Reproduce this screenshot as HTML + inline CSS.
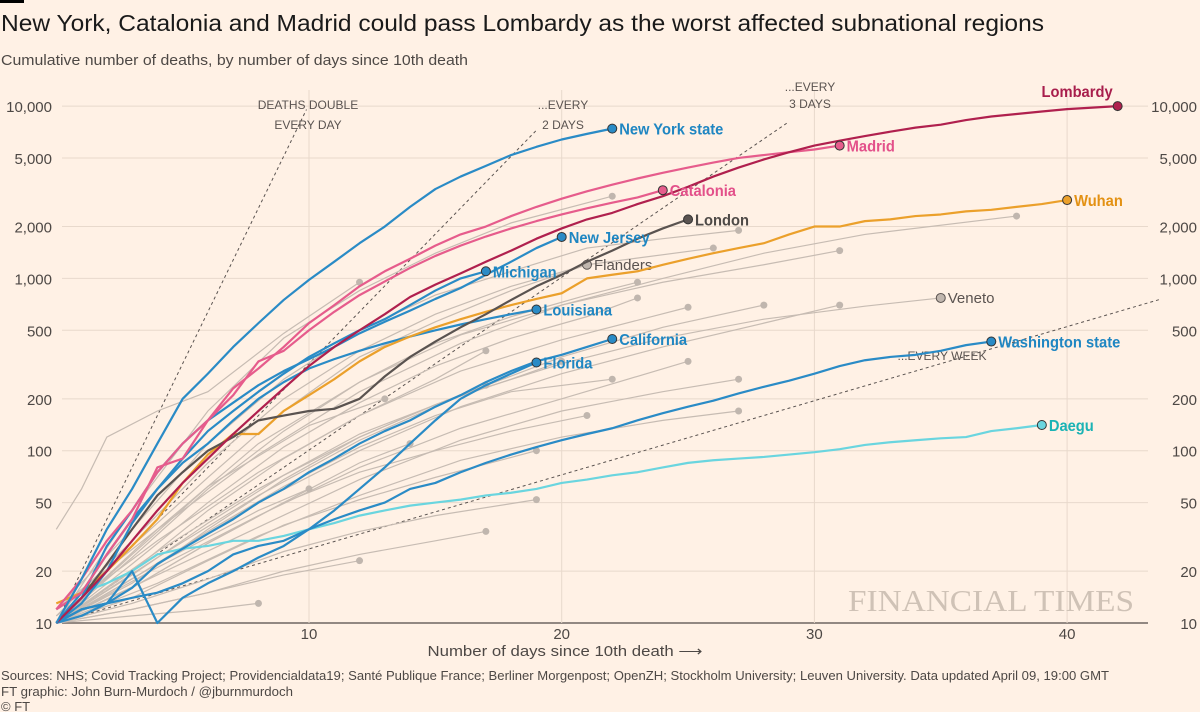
<!DOCTYPE html>
<html><head><meta charset="utf-8">
<style>
html,body{margin:0;padding:0;background:#fff1e5;}
svg{display:block;font-family:"Liberation Sans",sans-serif;}
</style></head>
<body>
<svg id="chart" width="1200" height="712" viewBox="0 0 1200 712">
<rect x="0" y="0" width="1200" height="712" fill="#fff1e5"/>
<rect x="0" y="0" width="24" height="3" fill="#000"/>
<text x="1" y="31" font-size="23" fill="#1a1a1a" textLength="1043" lengthAdjust="spacingAndGlyphs">New York, Catalonia and Madrid could pass Lombardy as the worst affected subnational regions</text>
<text x="1" y="65" font-size="15" fill="#4d4845" textLength="467" lengthAdjust="spacingAndGlyphs">Cumulative number of deaths, by number of days since 10th death</text>
<g id="grid"></g>
<g id="refs"></g>
<g id="gray"></g>
<g id="main"></g>
<g id="labels"></g>
<text x="1134" y="611" font-family="Liberation Serif, serif" font-size="31" fill="#cfc2b6" text-anchor="end" textLength="286" lengthAdjust="spacingAndGlyphs">FINANCIAL TIMES</text>
<text x="565" y="656" font-size="15" fill="#4d4845" text-anchor="middle" textLength="275" lengthAdjust="spacingAndGlyphs">Number of days since 10th death ⟶</text>
<text x="1" y="680" font-size="13" fill="#4d4845" textLength="1108" lengthAdjust="spacingAndGlyphs">Sources: NHS; Covid Tracking Project; Providencialdata19; Santé Publique France; Berliner Morgenpost; OpenZH; Stockholm University; Leuven University. Data updated April 09, 19:00 GMT</text>
<text x="1" y="696" font-size="13" fill="#4d4845" textLength="292" lengthAdjust="spacingAndGlyphs">FT graphic: John Burn-Murdoch / @jburnmurdoch</text>
<text x="1" y="711" font-size="13" fill="#4d4845">© FT</text>
</svg>
<script>
const yTicks=[10,20,50,100,200,500,1000,2000,5000,10000];
const yTickLabels=["10","20","50","100","200","500","1,000","2,000","5,000","10,000"];
const xTicks=[10,20,30,40];
const doublingDays=[1,2,3,7];
const doublingEnd=[9.9,19,29,43.7];

const mainNames=["New York state","Madrid","Catalonia","London","Lombardy","Wuhan","New Jersey","Michigan","Louisiana","California","Florida","Washington state","Daegu"];
const nyVals=[10,18,35,60,110,200,280,400,550,750,980,1250,1600,2000,2600,3300,3900,4500,5200,5800,6400,6900,7400];
const madridVals=[12,18,30,45,75,110,150,230,300,400,550,700,900,1100,1300,1550,1800,2000,2300,2600,2900,3200,3500,3800,4100,4400,4700,5000,5200,5400,5600,5900];
const cataloniaVals=[12,15,25,40,80,90,150,210,330,380,500,640,800,960,1150,1350,1550,1750,1950,2150,2350,2550,2750,2950,3250];
const londonVals=[10,14,22,35,55,75,100,120,150,160,170,175,200,270,350,430,520,620,750,900,1050,1250,1450,1700,1950,2200];
const lombardyVals=[10,14,20,30,45,65,90,125,170,230,310,400,500,620,780,920,1070,1250,1450,1700,1950,2200,2400,2700,3000,3400,3900,4400,4900,5400,5900,6300,6700,7100,7500,7800,8300,8700,9000,9300,9600,9800,10000];
const wuhanVals=[13,15,20,28,40,65,95,125,125,170,210,260,330,400,460,520,580,640,700,760,820,1000,1050,1100,1200,1300,1400,1500,1600,1800,2000,2000,2150,2200,2300,2350,2450,2500,2600,2700,2850];
const njVals=[10,14,28,45,75,110,150,190,240,290,340,400,480,560,650,760,880,1050,1250,1500,1740];
const michiganVals=[10,13,20,38,60,90,130,170,220,280,350,420,500,580,700,850,1000,1100];
const louisianaVals=[10,15,25,40,60,85,110,150,200,250,300,340,380,420,460,500,540,580,620,660];
const californiaVals=[10,11,13,16,22,27,33,40,50,60,75,90,110,130,150,180,210,250,290,330,360,400,445];
const floridaVals=[10,12,13,20,10,14,17,20,24,28,35,45,60,80,110,150,200,240,280,325];
const washingtonVals=[10,12,13,14,15,17,20,25,28,30,35,40,45,50,60,65,75,85,95,105,115,125,135,150,165,180,195,215,235,255,280,310,335,350,360,380,410,430];
const daeguVals=[12,15,17,20,25,27,28,30,30,32,35,38,42,45,48,50,52,55,57,60,65,68,72,75,80,85,88,90,92,95,98,102,108,112,115,118,120,130,135,141];

const grayNames=["g1","g2","g3","g4","g5","g6","Flanders","g7","g8","g9","Veneto","g10","g11","g12","g13","g14","g15","g16","g17","g18","g19","g20","g21","g22","g23","g24","g25","g26","g27"];
const grayData=[
[[0,10],[3,45],[6,170],[9,450],[12,850],[15,1400],[18,2100],[22,3000]],
[[0,12],[3,35],[6,110],[9,260],[12,500],[15,800],[18,1100],[21,1500],[24,1700],[27,1900]],
[[0,11],[3,30],[6,85],[9,200],[12,380],[15,620],[18,900],[21,1200],[26,1500]],
[[0,10],[4,35],[8,110],[12,250],[16,470],[20,700],[24,950],[28,1200],[31,1450]],
[[0,12],[4,35],[8,95],[12,220],[16,420],[20,700],[24,1000],[28,1400],[32,1800],[38,2300]],
[[0,10],[3,24],[6,60],[9,130],[12,250],[15,420],[18,600],[21,800],[23,950]],
[[0,10],[3,28],[6,70],[9,170],[12,350],[15,560],[18,850],[21,1200]],
[[0,10],[3,22],[6,50],[9,105],[12,190],[15,310],[18,450],[21,600],[23,770]],
[[0,11],[4,30],[8,75],[12,160],[16,290],[20,440],[25,680]],
[[0,10],[4,24],[8,55],[12,115],[16,210],[20,350],[24,520],[28,700]],
[[0,10],[4,26],[8,60],[12,125],[16,210],[20,320],[24,450],[28,580],[32,690],[35,770]],
[[0,10],[4,22],[8,50],[12,100],[16,180],[20,280],[24,400],[28,550],[31,700]],
[[0,10],[3,19],[6,38],[9,72],[12,120],[15,185],[18,260],[20,330]],
[[0,10],[3,18],[6,34],[9,62],[12,105],[15,160],[18,220],[22,260]],
[[0,10],[4,21],[8,42],[12,80],[16,135],[20,200],[25,330]],
[[0,10],[4,19],[8,36],[12,68],[16,115],[20,170],[24,220],[27,260]],
[[0,10],[4,17],[8,32],[12,55],[16,88],[20,120],[24,150],[27,170]],
[[0,10],[3,16],[6,29],[9,50],[12,75],[15,100],[18,130],[21,160]],
[[0,10],[3,14],[6,23],[9,37],[12,52],[15,70],[19,100]],
[[0,10],[3,13],[6,18],[9,26],[12,34],[15,42],[19,52]],
[[0,10],[3,12],[6,15],[9,20],[12,25],[15,30],[17,34]],
[[0,10],[3,12],[6,15],[9,19],[12,23]],
[[0,10],[3,11],[6,12],[8,13]],
[[0,10],[3,20],[6,45],[9,90],[12,160],[15,260],[17,380]],
[[0,10],[3,17],[6,35],[9,68],[12,120],[15,185],[17,240]],
[[0,10],[3,16],[6,29],[9,50],[12,85],[14,110]],
[[0,35],[1,60],[2,120],[4,170],[6,220],[9,480],[12,950]],
[[0,10],[3,25],[6,62],[10,140],[13,200]],
[[0,10],[4,22],[8,45],[10,60]]
];

const NS="http://www.w3.org/2000/svg";
const X0=56.3, DX=25.27, Y10=623, DEC=172.3;
function xs(d){return X0+d*DX;}
function ys(v){return Y10-(Math.log10(v)-1)*DEC;}
function mk(tag,attrs,parent){const e=document.createElementNS(NS,tag);for(const k in attrs)e.setAttribute(k,attrs[k]);parent.appendChild(e);return e;}

const grid=document.getElementById('grid');
yTicks.forEach((t,i)=>{
  const ln=mk('line',{x1:62,x2:1148,y1:ys(t),y2:ys(t),stroke:t===10?'#6e6662':'#e8d9cc','stroke-width':t===10?1.5:1},grid);
  
  
  const l=mk('text',{x:52,y:ys(t)+6,'font-size':15,fill:'#4d4845','text-anchor':'end'},grid);
  l.textContent=yTickLabels[i];
  
  
  const r=mk('text',{x:1197,y:ys(t)+6,'font-size':15,fill:'#4d4845','text-anchor':'end'},grid);
  r.textContent=yTickLabels[i];
  
  
});
xTicks.forEach(t=>{
  const ln=mk('line',{x1:xs(t),x2:xs(t),y1:90,y2:623,stroke:'#e8d9cc','stroke-width':1},grid);
  
  
  const l=mk('text',{x:xs(t),y:639,'font-size':15,fill:'#4d4845','text-anchor':'middle'},grid);
  l.textContent=t;
  
  
});

const refs=document.getElementById('refs');
doublingDays.forEach((d,i)=>{
  const e=doublingEnd[i];
  const ln=mk('line',{x1:xs(0),y1:ys(10),x2:xs(e),y2:ys(10*Math.pow(2,e/d)),stroke:'#5a5350','stroke-width':1,'stroke-dasharray':'3,3'},refs);
  
  
});
const refLabels=[["DEATHS DOUBLE",308,109],["EVERY DAY",308,129],["...EVERY",563,109],["2 DAYS",563,129],["...EVERY",810,91],["3 DAYS",810,108],["...EVERY WEEK",942,360]];
refLabels.forEach(r=>{
  const t=mk('text',{x:r[1],y:r[2],'font-size':12,fill:'#5a5350','text-anchor':'middle'},refs);
  t.textContent=r[0];
  
  
});

const gray=document.getElementById('gray');
grayData.forEach((pts,i)=>{
  const p=mk('polyline',{points:pts.map(q=>xs(q[0])+','+ys(q[1])).join(' '),fill:'none',stroke:'#c7bcb3','stroke-width':1.2},gray);
  
  
  const last=pts[pts.length-1];
  const labeled=grayNames[i]==='Flanders'||grayNames[i]==='Veneto';
  const c=mk('circle',{cx:xs(last[0]),cy:ys(last[1]),r:labeled?4.5:3.5,fill:'#c0b6ae',stroke:labeled?'#5a5350':'none','stroke-width':1},gray);
  
  
  if(labeled){
    const t=mk('text',{x:xs(last[0])+7,y:ys(last[1])+5,'font-size':15,fill:'#5a5350'},gray);
    t.textContent=grayNames[i];
    
    
  }
});

const mainVals=[nyVals,madridVals,cataloniaVals,londonVals,lombardyVals,wuhanVals,njVals,michiganVals,louisianaVals,californiaVals,floridaVals,washingtonVals,daeguVals];
const mainColors=["#2a8bc6","#e65c8c","#e65c8c","#5a5350","#b0204e","#eba02b","#2a8bc6","#2a8bc6","#2a8bc6","#2a8bc6","#2a8bc6","#2a8bc6","#6ad5df"];
const labelColors=["#1f86c2","#e3508a","#e3508a","#4e4a47","#a81e4c","#e39113","#1f86c2","#1f86c2","#1f86c2","#1f86c2","#1f86c2","#1f86c2","#1bb3b5"];
const drawOrder=[12,11,10,9,8,5,3,7,6,2,1,4,0];
const main=document.getElementById('main');
const labels=document.getElementById('labels');
drawOrder.forEach(i=>{
  const vals=mainVals[i];
  const p=mk('polyline',{points:vals.map((v,d)=>xs(d)+','+ys(v)).join(' '),fill:'none',stroke:mainColors[i],'stroke-width':2.2,'stroke-linejoin':'round'},main);
  
  
  const ex=xs(vals.length-1), ey=ys(vals[vals.length-1]);
  const c=mk('circle',{cx:ex,cy:ey,r:4.5,fill:mainColors[i],stroke:'#333','stroke-width':1},labels);
  
  
  const isLomb=mainNames[i]==='Lombardy';
  const t=mk('text',{x:isLomb?ex-5:ex+7,y:isLomb?ey-9:ey+6,'font-size':16,'font-weight':'bold',fill:labelColors[i],'text-anchor':isLomb?'end':'start',transform:'translate('+(isLomb?ex-5:ex+7)+',0) scale(0.92,1) translate('+(-(isLomb?ex-5:ex+7))+',0)'},labels);
  t.textContent=mainNames[i];
  
  
});
</script>
</body></html>
